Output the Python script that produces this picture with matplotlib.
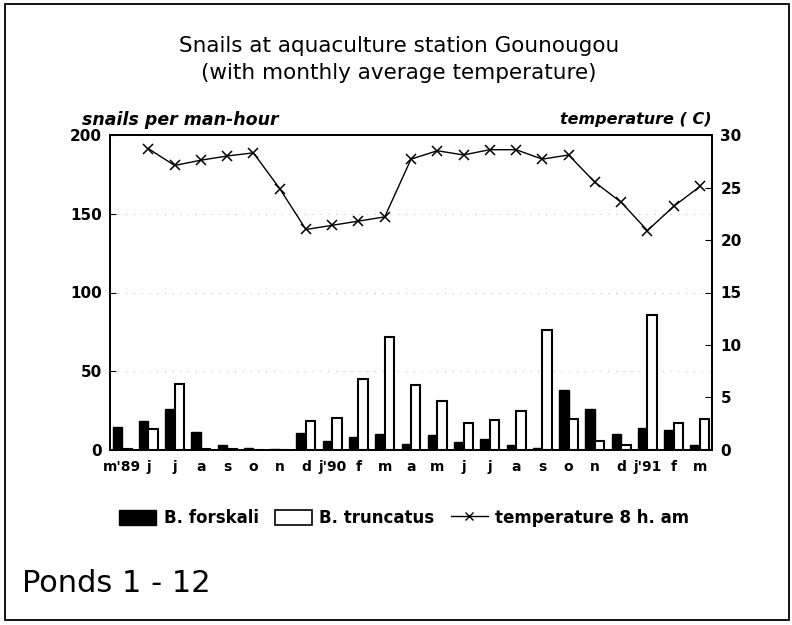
import numpy as np
import matplotlib
matplotlib.use("Agg")
import matplotlib.pyplot as plt
from matplotlib.patches import Patch, Rectangle
from matplotlib.lines import Line2D

plt.rcParams['font.family'] = ['DejaVu Sans']

# Monthly samples, May 1989 - March 1991
months = ["m'89", "j", "j", "a", "s", "o", "n", "d", "j'90", "f", "m", "a",
          "m", "j", "j", "a", "s", "o", "n", "d", "j'91", "f", "m"]
forskali = [14.5, 18.5, 26, 11.5, 3, 1.5, 0.5, 11, 5.5, 8.5, 10, 4,
            9.5, 5, 7, 3, 1, 38, 26, 10, 14, 13, 3]
truncatus = [0.5, 13.5, 42, 0.5, 0.8, 0, 0, 18.5, 20.5, 45, 72, 41.5,
             31, 17, 19, 25, 76, 20, 6, 3, 86, 17, 20]
temperature = [np.nan, 28.7, 27.1, 27.6, 28.0, 28.3, 24.9, 21.0, 21.4, 21.8, 22.2, 27.7,
               28.5, 28.1, 28.6, 28.6, 27.7, 28.1, 25.5, 23.6, 20.9, 23.2, 25.1]

x = np.arange(len(months))
w = 0.36

fig = plt.figure(figsize=(7.92, 6.25), dpi=100)
ax = fig.add_axes([110 / 792, 1 - 450 / 625, 602 / 792, 315 / 625])

ax.bar(x - w / 2, forskali, w, color='black', edgecolor='black', linewidth=1)
ax.bar(x + w / 2, truncatus, w, color='white', edgecolor='black', linewidth=1.5)
ax.set_xlim(-0.46, len(months) - 0.54)
ax.set_ylim(0, 200)
ax.set_yticks([0, 50, 100, 150, 200])
ax.set_xticks(x)
ax.set_xticklabels(months)
ax.tick_params(axis='x', length=0, pad=7, labelsize=10)
ax.tick_params(axis='y', direction='in', length=4, labelsize=11, pad=6)
for lab in ax.get_xticklabels() + ax.get_yticklabels():
    lab.set_fontweight('bold')
for s in ax.spines.values():
    s.set_linewidth(1.3)

# faint dotted guide lines
for g in [50, 100, 150]:
    ax.axhline(g, color='gray', lw=0.7, ls=(0, (1, 7)), alpha=0.6, zorder=0)

ax2 = ax.twinx()
ax2.plot(x, temperature, color='black', lw=1, marker='x', ms=6.5, mew=1.1)
ax2.set_ylim(0, 30)
ax2.set_yticks([0, 5, 10, 15, 20, 25, 30])
ax2.tick_params(axis='y', direction='in', length=5, labelsize=11, pad=6)
for lab in ax2.get_yticklabels():
    lab.set_fontweight('bold')
for s in ax2.spines.values():
    s.set_linewidth(1.3)

fig.text(399 / 792, 1 - 46 / 625, "Snails at aquaculture station Gounougou",
         ha='center', va='center', fontsize=15.5)
fig.text(399 / 792, 1 - 73 / 625, "(with monthly average temperature)",
         ha='center', va='center', fontsize=15.5)
fig.text(82 / 792, 1 - 120 / 625, "snails per man-hour", ha='left', va='center',
         fontsize=12.5, style='italic', fontweight='bold')
fig.text(712 / 792, 1 - 120 / 625, "temperature ( C)", ha='right', va='center',
         fontsize=11.5, style='italic', fontweight='bold')
fig.text(22 / 792, 1 - 583 / 625, "Ponds 1 - 12", ha='left', va='center', fontsize=22)

handles = [Patch(facecolor='black', edgecolor='black'),
           Patch(facecolor='white', edgecolor='black', linewidth=1.2),
           Line2D([], [], color='black', lw=1, marker='x', ms=6)]
leg = fig.legend(handles, ["B. forskali", "B. truncatus", "temperature 8 h. am"],
                 loc='center left', bbox_to_anchor=(111 / 792, 1 - 518 / 625),
                 ncol=3, frameon=False, handlelength=2.2, handleheight=1.0,
                 columnspacing=1.0, handletextpad=0.45, borderpad=0,
                 prop={'weight': 'bold', 'size': 12})

# page frame
fig.patches.append(Rectangle((0.006, 0.008), 0.99, 0.986, transform=fig.transFigure,
                             fill=False, edgecolor='black', linewidth=1.3))

fig.savefig("out.png", dpi=100)
